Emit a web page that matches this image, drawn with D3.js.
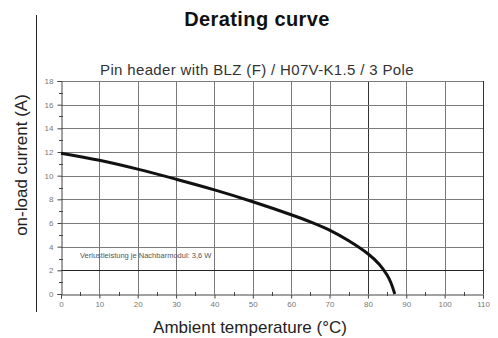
<!DOCTYPE html>
<html>
<head>
<meta charset="utf-8">
<script src="https://cdn.jsdelivr.net/npm/d3@7"></script>
<style>
  body { margin: 0; background: #fff; }
  svg { display: block; font-family: "Liberation Sans", Arial, sans-serif; }
</style>
</head>
<body>
<svg id="chart"></svg>
<script>
// values
const temps = [0, 10, 20, 30, 40, 50, 60, 65, 70, 75, 80, 83, 85, 86, 87];
const currents = [11.9, 11.3, 10.55, 9.7, 8.8, 7.8, 6.7, 6.1, 5.4, 4.5, 3.4, 2.5, 1.6, 0.95, 0];
const xTicks = [0, 10, 20, 30, 40, 50, 60, 70, 80, 90, 100, 110];
const yTicks = [0, 2, 4, 6, 8, 10, 12, 14, 16, 18];
const limitCurrent = 2;
const noteText = "Verlustleistung je Nachbarmodul: 3,6 W";

function draw_chart() {
    let width = 498;
    let height = 338;

    const svg = d3.select("#chart")
        .attr("width", width)
        .attr("height", height);

    let x = d3.scaleLinear().domain([0, 110]).range([61, 483]);
    let y = d3.scaleLinear().domain([0, 18]).range([294, 81]);

    // left frame line
    svg.append("line")
        .attr("x1", 36.5).attr("x2", 36.5)
        .attr("y1", 15).attr("y2", 312)
        .attr("stroke", "#222").attr("stroke-width", 1);

    // titles
    svg.append("text")
        .attr("x", 257).attr("y", 26)
        .attr("text-anchor", "middle")
        .attr("font-size", 20).attr("font-weight", "bold")
        .attr("letter-spacing", 0.4)
        .attr("fill", "#111")
        .text("Derating curve");

    svg.append("text")
        .attr("x", 257).attr("y", 75)
        .attr("text-anchor", "middle")
        .attr("font-size", 15)
        .attr("letter-spacing", 0.35)
        .attr("fill", "#333")
        .text("Pin header with BLZ (F) / H07V-K1.5 / 3 Pole");

    // grid
    const grid = svg.append("g").attr("stroke-width", 1);
    grid.selectAll("line.v")
        .data(xTicks.slice(1))
        .join("line")
        .attr("class", "v")
        .attr("x1", d => Math.round(x(d)) + 0.5)
        .attr("x2", d => Math.round(x(d)) + 0.5)
        .attr("y1", y(18)).attr("y2", y(0))
        .attr("stroke", d => d === 110 || d === 80 ? "#333" : "#7a7a7a");

    grid.selectAll("line.h")
        .data(yTicks.slice(1))
        .join("line")
        .attr("class", "h")
        .attr("x1", x(0)).attr("x2", x(110))
        .attr("y1", d => Math.round(y(d)) + 0.5)
        .attr("y2", d => Math.round(y(d)) + 0.5)
        .attr("stroke", d => d === limitCurrent ? "#222" : "#7a7a7a");

    // axes
    const xAxis = d3.axisBottom(x)
        .tickValues(xTicks)
        .tickSize(4)
        .tickPadding(3)
        .tickFormat(d3.format("d"));
    const gx = svg.append("g")
        .attr("transform", `translate(0,${Math.round(y(0)) + 0.5})`)
        .call(xAxis);

    const yAxis = d3.axisLeft(y)
        .tickValues(yTicks)
        .tickSize(4)
        .tickPadding(4)
        .tickFormat(d3.format("d"));
    const gy = svg.append("g")
        .attr("transform", `translate(${Math.round(x(0)) + 0.5},0)`)
        .call(yAxis);

    [gx, gy].forEach(g => {
        g.select(".domain").attr("stroke", "#444");
        g.selectAll(".tick line").attr("stroke", "#444");
        g.selectAll(".tick text")
            .attr("font-size", 8)
            .attr("fill", "#777")
            .attr("font-family", "Liberation Sans, Arial, sans-serif");
    });

    // minor ticks
    const minorX = d3.range(5, 110, 10);
    svg.append("g").selectAll("line")
        .data(minorX)
        .join("line")
        .attr("x1", d => Math.round(x(d)) + 0.5)
        .attr("x2", d => Math.round(x(d)) + 0.5)
        .attr("y1", y(0) - 2).attr("y2", y(0) + 2)
        .attr("stroke", "#444");

    const minorY = d3.range(1, 18, 2);
    svg.append("g").selectAll("line")
        .data(minorY)
        .join("line")
        .attr("x1", x(0) - 2).attr("x2", x(0) + 2)
        .attr("y1", d => Math.round(y(d)) + 0.5)
        .attr("y2", d => Math.round(y(d)) + 0.5)
        .attr("stroke", "#444");

    // note text
    svg.append("text")
        .attr("x", 80).attr("y", 258)
        .attr("font-size", 7.5)
        .attr("fill", "#555")
        .text(noteText);

    // derating curve
    const points = temps.map((t, i) => [t, currents[i]]);
    const line = d3.line()
        .x(d => x(d[0]))
        .y(d => y(d[1]))
        .curve(d3.curveCatmullRom.alpha(0.5));

    svg.append("path")
        .datum(points)
        .attr("fill", "none")
        .attr("stroke", "#111")
        .attr("stroke-width", 3)
        .attr("d", line);

    // axis labels
    svg.append("text")
        .attr("x", 250).attr("y", 333)
        .attr("text-anchor", "middle")
        .attr("font-size", 17)
        .attr("fill", "#222")
        .text("Ambient temperature (°C)");

    svg.append("text")
        .attr("transform", "translate(27,165) rotate(-90)")
        .attr("text-anchor", "middle")
        .attr("font-size", 17)
        .attr("fill", "#222")
        .text("on-load current (A)");
}

draw_chart();
</script>
</body>
</html>
